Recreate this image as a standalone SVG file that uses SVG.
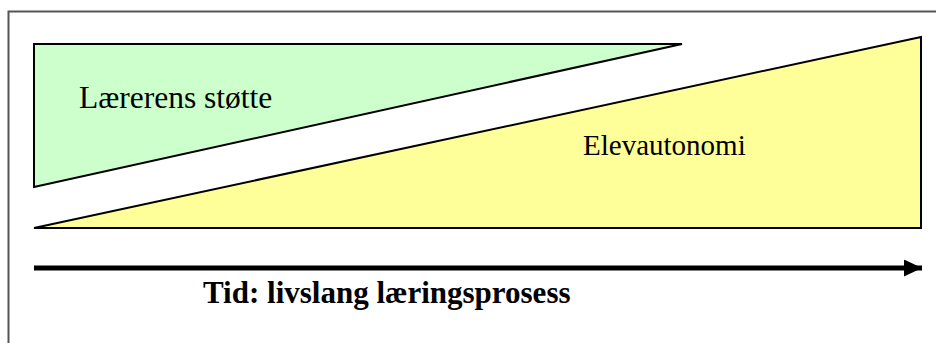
<svg xmlns="http://www.w3.org/2000/svg" width="936" height="343" viewBox="0 0 936 343">
<style>
.shape{stroke:#000;stroke-width:2;stroke-linejoin:miter}
.lbl{font-family:"Liberation Serif","Times New Roman",serif;fill:#000}
</style>
<defs>
<marker id="ah" markerWidth="18" markerHeight="17" refX="18" refY="8.5" orient="auto" markerUnits="userSpaceOnUse">
<path d="M0,0 L18,8.5 L0,17 Z" fill="#000"/>
</marker>
</defs>
<rect x="0" y="0" width="936" height="343" fill="#fff"/>
<g id="frame">
<path d="M8.5,343 L8.5,11.5 L936,11.5" fill="none" stroke="#555" stroke-width="2"/>
</g>
<g id="laerer">
<polygon class="shape" points="34,44 682,44 34,187" fill="#CCFFCC"/>
<text class="lbl" x="79" y="108" font-size="31.5">Lærerens støtte</text>
</g>
<g id="elev">
<polygon class="shape" points="34,228 921,37 921,228" fill="#FFFF99"/>
<text class="lbl" x="583" y="155" font-size="29">Elevautonomi</text>
</g>
<g id="connectors">
<line x1="34" y1="268" x2="922" y2="268" stroke="#000" stroke-width="5" marker-end="url(#ah)"/>
</g>
<g id="tid">
<text class="lbl" x="203" y="303" font-size="31" font-weight="bold">Tid: livslang læringsprosess</text>
</g>
</svg>
